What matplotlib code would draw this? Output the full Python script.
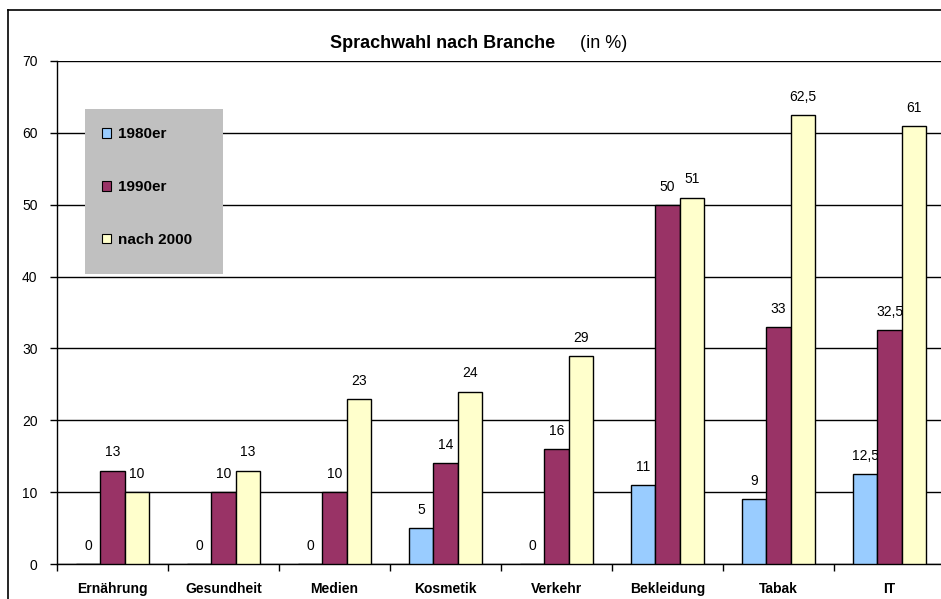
import numpy as np
import matplotlib
matplotlib.use("Agg")
import matplotlib.pyplot as plt
from matplotlib.patches import Rectangle, Patch
from matplotlib.lines import Line2D

plt.rcParams["font.family"] = ["Liberation Sans", "DejaVu Sans"]

# ── Data ──────────────────────────────────────────────────────────────
categories = ["Ernährung", "Gesundheit", "Medien", "Kosmetik",
              "Verkehr", "Bekleidung", "Tabak", "IT"]
series_names = ["1980er", "1990er", "nach 2000"]
v1980 = [0, 0, 0, 5, 0, 11, 9, 12.5]
v1990 = [13, 10, 10, 14, 16, 50, 33, 32.5]
v2000 = [10, 13, 23, 24, 29, 51, 62.5, 61]
yticks = [0, 10, 20, 30, 40, 50, 60, 70]

COLORS = ["#99CCFF", "#993366", "#FFFFCC"]
LEGEND_BG = "#C0C0C0"


def fmt(v):
    s = f"{v:g}"
    return s.replace(".", ",")


fig = plt.figure(figsize=(9.41, 5.99), dpi=100)
W, H = 941, 599
# plot area in pixels: x 57..945, y 61..564
ax = fig.add_axes([57 / W, (H - 564) / H, 888 / W, (564 - 61) / H])

x = np.arange(len(categories))
w = 0.22
for i, (vals, c, name) in enumerate(zip([v1980, v1990, v2000], COLORS, series_names)):
    bars = ax.bar(x + (i - 1) * w, vals, w, color=c, edgecolor="black",
                  linewidth=1.0, label=name, zorder=3)
    for bar, v in zip(bars, vals):
        ax.annotate(fmt(v), (bar.get_x() + bar.get_width() / 2, bar.get_height()),
                    xytext=(0, 8), textcoords="offset points", ha="center",
                    va="bottom", fontsize=10, color="black")

ax.set_xlim(-0.5, len(categories) - 0.5)
ax.set_ylim(0, 70)
ax.set_yticks(yticks)
ax.set_yticklabels([str(t) for t in yticks], fontsize=10)
ax.tick_params(axis="y", length=5, width=1, pad=9, colors="black")

# category boundaries as major ticks, labels as minor ticks
ax.set_xticks(np.arange(len(categories) + 1) - 0.5)
ax.set_xticklabels([])
ax.tick_params(axis="x", which="major", length=5, width=1, direction="out")
ax.set_xticks(x, minor=True)
ax.set_xticklabels(categories, minor=True, fontsize=10, fontweight="bold")
ax.tick_params(axis="x", which="minor", length=0, pad=13)

ax.yaxis.grid(True, color="black", linewidth=1.0)
ax.set_axisbelow(True)
for s in ["top", "right"]:
    ax.spines[s].set_visible(False)
ax.spines["left"].set_linewidth(1.0)
ax.spines["bottom"].set_linewidth(1.0)

# legend box
ax.add_patch(Rectangle(((85 - 57) / 888, (564 - 274) / 503), 138 / 888, 165 / 503,
                       transform=ax.transAxes, facecolor=LEGEND_BG,
                       edgecolor="none", zorder=4))
handles = [Patch(facecolor=c, edgecolor="black", linewidth=0.8) for c in COLORS]
leg = ax.legend(handles, series_names, loc="upper left",
                bbox_to_anchor=((102 - 57) / 888, (564 - 127) / 503),
                frameon=False, borderpad=0, borderaxespad=0,
                labelspacing=2.55, handlelength=0.62, handleheight=0.62,
                handletextpad=0.4, prop={"size": 11, "weight": "bold"})
leg.set_zorder(5)

# title
fig.text(330 / W, 1 - 44 / H, "Sprachwahl nach Branche", fontsize=13,
         fontweight="bold", ha="left", va="center")
fig.text(580 / W, 1 - 44 / H, "(in %)", fontsize=13, ha="left", va="center")

# outer chart border (left and top visible)
fig.add_artist(Line2D([8 / W, 8 / W], [0, 1 - 10 / H], color="black", linewidth=1.2))
fig.add_artist(Line2D([8 / W, 1.01], [1 - 10 / H, 1 - 10 / H], color="black", linewidth=1.2))

fig.savefig("out.png", dpi=100, facecolor="white")
